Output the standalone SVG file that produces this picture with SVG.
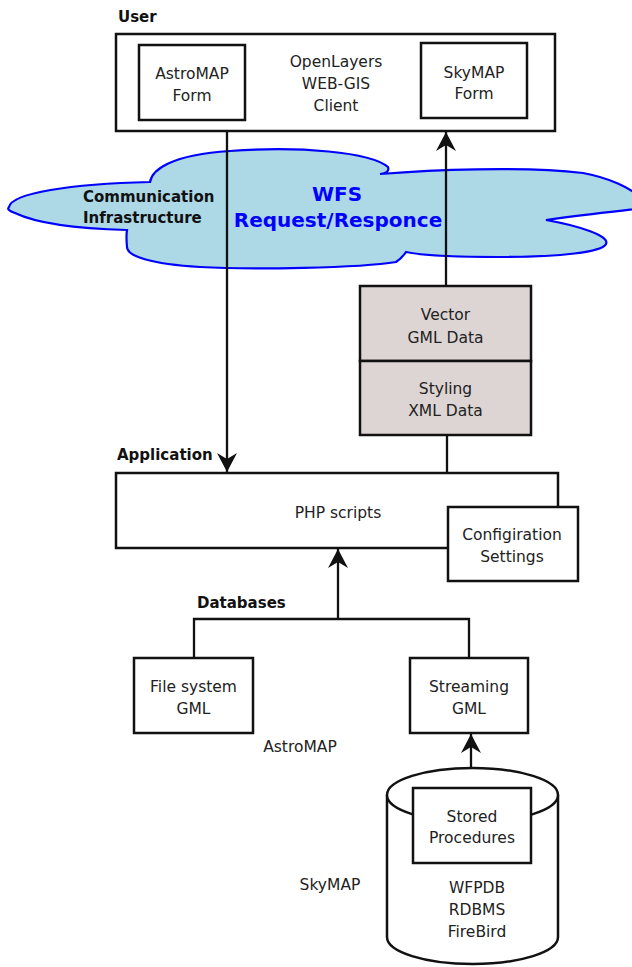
<svg xmlns="http://www.w3.org/2000/svg" width="632" height="967" viewBox="0 0 632 967">
<style>
.box{fill:#fff;stroke:#111;stroke-width:2.5}
.data{fill:#ddd5d4;stroke:#111;stroke-width:2.5}
.t{font-family:"DejaVu Sans",Verdana,sans-serif;font-size:15.5px;fill:#222;text-anchor:middle}
.b{font-family:"DejaVu Sans",Verdana,sans-serif;font-size:15px;font-weight:bold;fill:#111}
.line{fill:none;stroke:#111;stroke-width:2.3}
</style>
<defs>
<marker id="ah" markerUnits="userSpaceOnUse" markerWidth="24" markerHeight="24" viewBox="-20 -12 22 24" refX="0" refY="0" orient="auto">
<path d="M0,0 L-19,-10 L-13,0 L-19,10 Z" fill="#111"/>
</marker>
</defs>
<rect width="632" height="967" fill="#fff"/>

<g id="cloud">
<path d="M9,207 C12,193 70,184 150,182 C152,170 170,155 230,151 C300,146 370,152 388,167 Q390,173 380,174 C430,170 520,166 583,173 C610,178 630,188 640,197 L660,205 C640,210 600,212 546,220 C580,226 610,236 606,244 C603,252 560,257 500,257 C450,257 420,255 406,252 Q402,258 396,262 C360,268 250,270 200,267 C150,264 127,256 127,247 Q126,236 127,230 C90,229 40,225 15,213 C9,211 7,209 9,207 Z" fill="#add8e6" stroke="#0000ff" stroke-width="2.2"/>
<text class="b" x="83" y="202">Communication</text>
<text class="b" x="83" y="223">Infrastructure</text>
<text x="337" y="201" font-family="DejaVu Sans,Verdana,sans-serif" font-size="20" font-weight="bold" fill="#0000ff" text-anchor="middle">WFS</text>
<text x="338" y="227" font-family="DejaVu Sans,Verdana,sans-serif" font-size="20" font-weight="bold" fill="#0000ff" text-anchor="middle">Request/Responce</text>
</g>

<g id="labels">
<text class="b" x="118" y="22">User</text>
<text class="b" x="117" y="460">Application</text>
<text class="b" x="197" y="608">Databases</text>
<text class="t" x="300" y="752">AstroMAP</text>
<text class="t" x="330" y="890">SkyMAP</text>
</g>

<g id="connectors">
<line class="line" x1="227" y1="131" x2="227" y2="472" marker-end="url(#ah)"/>
<line class="line" x1="446" y1="286" x2="446" y2="132" marker-end="url(#ah)"/>
<line class="line" x1="447" y1="435" x2="447" y2="473"/>
<line class="line" x1="338" y1="619" x2="338" y2="549" marker-end="url(#ah)"/>
<polyline class="line" points="194,658 194,619 469,619 469,658"/>
<line class="line" x1="471" y1="768" x2="471" y2="734" marker-end="url(#ah)"/>
</g>

<g id="user-client">
<rect class="box" x="116" y="34" width="439" height="97"/>
<text class="t" x="336" y="67">OpenLayers</text>
<text class="t" x="336" y="89">WEB-GIS</text>
<text class="t" x="336" y="111">Client</text>
</g>
<g id="astromap-form">
<rect class="box" x="139" y="45" width="106" height="75"/>
<text class="t" x="192" y="79">AstroMAP</text>
<text class="t" x="192" y="101">Form</text>
</g>
<g id="skymap-form">
<rect class="box" x="421" y="43" width="106" height="75"/>
<text class="t" x="474" y="78">SkyMAP</text>
<text class="t" x="474" y="99">Form</text>
</g>

<g id="vector-gml">
<rect class="data" x="360" y="286" width="171" height="75"/>
<text class="t" x="445.5" y="320">Vector</text>
<text class="t" x="445.5" y="343">GML Data</text>
</g>
<g id="styling-xml">
<rect class="data" x="360" y="361" width="171" height="74"/>
<text class="t" x="445.5" y="394">Styling</text>
<text class="t" x="445.5" y="416">XML Data</text>
</g>

<g id="php-scripts">
<rect class="box" x="116" y="473" width="442" height="75"/>
<text class="t" x="338" y="518">PHP scripts</text>
</g>
<g id="config-settings">
<rect class="box" x="448" y="507" width="130" height="74"/>
<text class="t" x="512" y="540">Configiration</text>
<text class="t" x="512" y="562">Settings</text>
</g>

<g id="file-system-gml">
<rect class="box" x="134" y="658" width="119" height="75"/>
<text class="t" x="193.5" y="692">File system</text>
<text class="t" x="193.5" y="714">GML</text>
</g>
<g id="streaming-gml">
<rect class="box" x="410" y="658" width="118" height="75"/>
<text class="t" x="469" y="692">Streaming</text>
<text class="t" x="469" y="714">GML</text>
</g>

<g id="firebird-db">
<path d="M387,795 L387,937 A85.5,27 0 0 0 558,937 L558,795" fill="#fff" stroke="#111" stroke-width="2.5"/>
<ellipse cx="472.5" cy="795" rx="85.5" ry="27" fill="#fff" stroke="#111" stroke-width="2.5"/>
<text class="t" x="477" y="893">WFPDB</text>
<text class="t" x="477" y="915">RDBMS</text>
<text class="t" x="477" y="937">FireBird</text>
</g>
<g id="stored-procedures">
<rect class="box" x="413" y="788" width="118" height="75"/>
<text class="t" x="472" y="822">Stored</text>
<text class="t" x="472" y="843">Procedures</text>
</g>
</svg>
